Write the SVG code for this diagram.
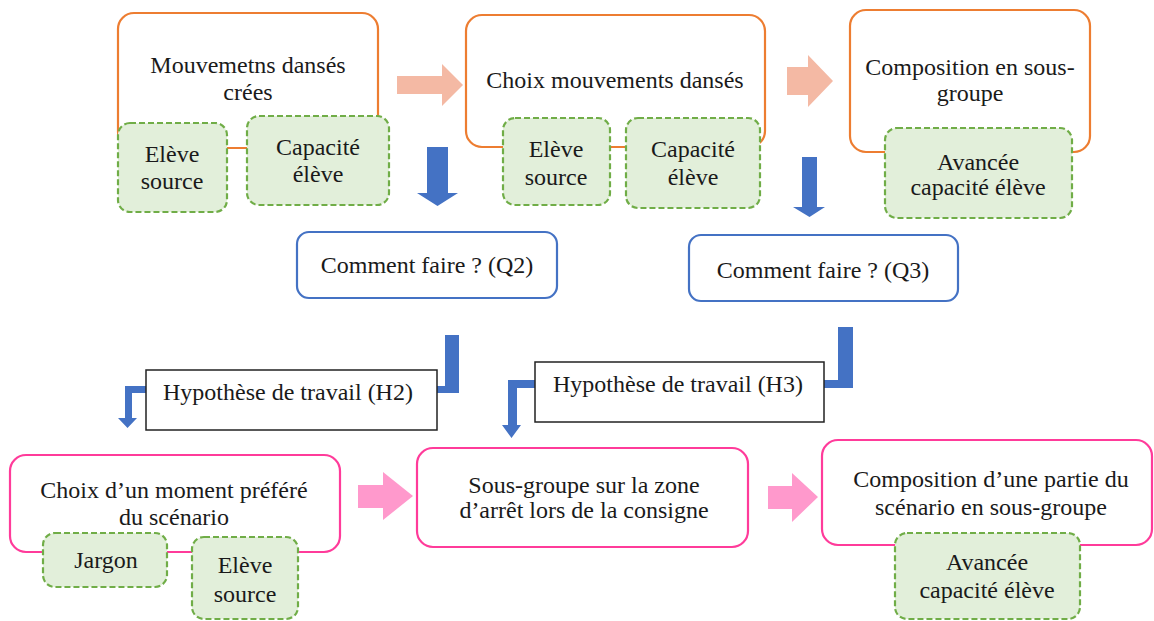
<svg xmlns="http://www.w3.org/2000/svg" width="1154" height="621" viewBox="0 0 1154 621">
<style>
text{font-family:"Liberation Serif","Times New Roman",serif;font-size:24px;fill:#1a1a1a;text-anchor:middle}
.or{fill:#fff;stroke:#ED7D31;stroke-width:2.2}
.bl{fill:#fff;stroke:#4472C4;stroke-width:2.2}
.pk{fill:#fff;stroke:#FF3B9A;stroke-width:2.2}
.gr{fill:#E2EFDA;stroke:#70AD47;stroke-width:2.2;stroke-dasharray:6 3}
.hy{fill:#fff;stroke:#222;stroke-width:1.5}
.ab{fill:#4472C4}
.as{fill:#F4B9A4}
.ap{fill:#FF99CC}
</style>
<rect width="1154" height="621" fill="#fff"/>
<g id="connectors">
<polygon class="as" points="397,76 442,76 442,64 463,85 442,106 442,94 397,94"/>
<polygon class="as" points="787,67 808,67 808,55 833,81 808,107 808,95 787,95"/>
<polygon class="ab" points="427,147 448,147 448,193 458,193 437.5,206 417,193 427,193"/>
<polygon class="ab" points="802,157 817,157 817,207 825,207 809.5,217 793,207 802,207"/>
<polygon class="ab" points="445,335 459,335 459,393 132,393 132,418 137,418 127.5,428 118,418 125,418 125,386 445,386"/>
<polygon class="ab" points="838,327 853,327 853,388 517,388 517,425 521,425 511.5,438 502,425 508,425 508,380 838,380"/>
<polygon class="ap" points="358,485 383,485 383,472 413,496 383,520 383,508 358,508"/>
<polygon class="ap" points="768,486 792,486 792,473 818,497 792,522 792,509 768,509"/>
</g>
<g id="n1">
<rect class="or" x="118" y="13" width="260" height="135" rx="16"/>
<text x="248" y="73">Mouvemetns dansés</text>
<text x="248" y="100">crées</text>
</g>
<g id="n1a">
<rect class="gr" x="118" y="123" width="109" height="89" rx="12"/>
<text x="172" y="162">Elève</text>
<text x="172" y="189">source</text>
</g>
<g id="n1b">
<rect class="gr" x="247" y="116" width="142" height="89" rx="12"/>
<text x="318" y="155">Capacité</text>
<text x="318" y="182">élève</text>
</g>
<g id="n2">
<rect class="or" x="466" y="15" width="299" height="132" rx="16"/>
<text x="615" y="88">Choix mouvements dansés</text>
</g>
<g id="n2a">
<rect class="gr" x="503" y="118" width="107" height="87" rx="12"/>
<text x="556" y="157">Elève</text>
<text x="556" y="185">source</text>
</g>
<g id="n2b">
<rect class="gr" x="626" y="118" width="134" height="90" rx="12"/>
<text x="693" y="157">Capacité</text>
<text x="693" y="185">élève</text>
</g>
<g id="n3">
<rect class="or" x="850" y="10" width="240" height="142" rx="16"/>
<text x="970" y="75">Composition en sous-</text>
<text x="970" y="101">groupe</text>
</g>
<g id="n3a">
<rect class="gr" x="885" y="128" width="187" height="90" rx="12"/>
<text x="978" y="170">Avancée</text>
<text x="978" y="195">capacité élève</text>
</g>
<g id="q2">
<rect class="bl" x="297" y="232" width="260" height="66" rx="12"/>
<text x="427" y="273">Comment faire ? (Q2)</text>
</g>
<g id="q3">
<rect class="bl" x="689" y="235" width="269" height="66" rx="12"/>
<text x="823" y="278">Comment faire ? (Q3)</text>
</g>
<g id="h2">
<rect class="hy" x="146" y="370" width="291" height="60"/>
<text x="288" y="400">Hypothèse de travail (H2)</text>
</g>
<g id="h3">
<rect class="hy" x="535" y="362" width="289" height="60"/>
<text x="678" y="392">Hypothèse de travail (H3)</text>
</g>
<g id="p1">
<rect class="pk" x="10" y="455" width="330" height="97" rx="16"/>
<text x="174" y="498">Choix d’un moment préféré</text>
<text x="174" y="525">du scénario</text>
</g>
<g id="p1a">
<rect class="gr" x="43" y="533" width="124" height="54" rx="12"/>
<text x="106" y="568">Jargon</text>
</g>
<g id="p1b">
<rect class="gr" x="192" y="537" width="106" height="82" rx="12"/>
<text x="245" y="573">Elève</text>
<text x="245" y="602">source</text>
</g>
<g id="p2">
<rect class="pk" x="417" y="448" width="331" height="99" rx="16"/>
<text x="584" y="493">Sous-groupe sur la zone</text>
<text x="584" y="518">d’arrêt lors de la consigne</text>
</g>
<g id="p3">
<rect class="pk" x="822" y="440" width="330" height="105" rx="16"/>
<text x="991" y="487">Composition d’une partie du</text>
<text x="991" y="515">scénario en sous-groupe</text>
</g>
<g id="p3a">
<rect class="gr" x="895" y="533" width="185" height="86" rx="12"/>
<text x="987" y="570">Avancée</text>
<text x="987" y="598">capacité élève</text>
</g>
</svg>
